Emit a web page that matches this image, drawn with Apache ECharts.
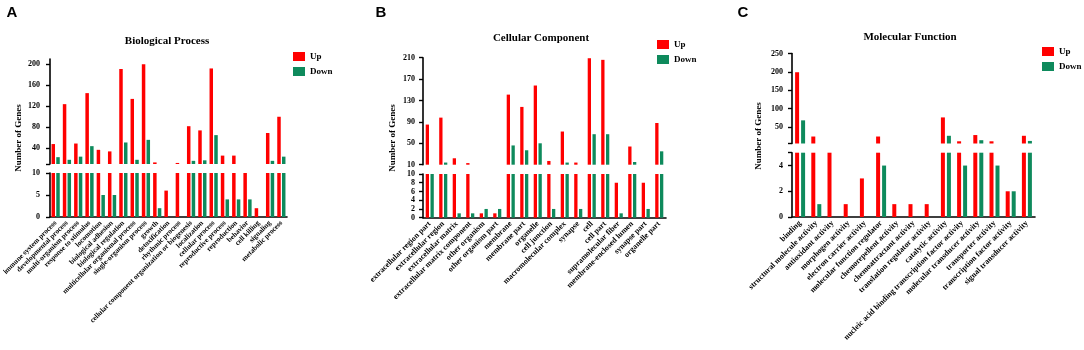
<!DOCTYPE html>
<html lang="en">
<head>
    <meta charset="UTF-8" />
    <title>GO classification</title>
    <script src="https://cdn.jsdelivr.net/npm/echarts@6/dist/echarts.min.js"></script>
    <style>
        body { margin: 0; background: #fff; }
    </style>
</head>
<body>
    <div id="main" style="width: 1084px; height: 350px"></div>
    <script>
        // Biological Process
        var bpCats = ["immune system process", "developmental process", "multi-organism process",
            "response to stimulus", "locomotion", "biological adhesion", "biological regulation",
            "multicellular organismal process", "single-organism process", "growth", "detoxification",
            "rhythmic process", "cellular component organization or biogenesis", "localization",
            "cellular process", "reproductive process", "reproduction", "behavior", "cell killing",
            "signaling", "metabolic process"];
        var bpUp = [48, 124, 49, 145, 37, 34, 191, 134, 200, 13, 6, 12, 82, 74, 192, 26, 26, 10, 2, 69, 100];
        var bpDown = [23, 18, 24, 44, 5, 5, 51, 18, 56, 2, 0, 0, 16, 17, 65, 4, 4, 4, 0, 16, 24];

        // Cellular Component
        var ccCats = ["extracellular region part", "extracellular region", "extracellular matrix",
            "extracellular matrix component", "other organism", "other organism part", "membrane",
            "membrane part", "organelle", "cell junction", "macromolecular complex", "synapse", "cell",
            "cell part", "supramolecular fiber", "membrane-enclosed lumen", "synapse part", "organelle part"];
        var ccUp = [85, 98, 22, 13, 1, 1, 141, 118, 158, 17, 72, 14, 209, 206, 8, 44, 8, 88];
        var ccDown = [10, 14, 1, 1, 2, 2, 46, 37, 50, 2, 14, 2, 67, 67, 1, 15, 2, 35];

        // Molecular Function
        var mfCats = ["binding", "structural molecule activity", "antioxidant activity", "morphogen activity",
            "electron carrier activity", "molecular function regulator", "chemorepellent activity",
            "chemoattractant activity", "translation regulator activity", "catalytic activity",
            "nucleic acid binding transcription factor activity", "molecular transducer activity",
            "transporter activity", "transcription factor activity", "signal transducer activity"];
        var mfUp = [199, 24, 5, 1, 3, 24, 1, 1, 1, 76, 11, 28, 11, 2, 26];
        var mfDown = [68, 1, 0, 0, 0, 4, 0, 0, 0, 26, 4, 14, 4, 2, 12];

        var RED = "#ff0000";
        var GREEN = "#0e8a5c";
        var SERIF = "Liberation Serif";

        // one panel = upper (broken) segment + lower segment
        var panels = [
            {
                cats: bpCats, up: bpUp, down: bpDown, left: 50, width: 237,
                upTop: 59, upBottom: 164, upMin: 10, upMax: 210,
                upTicks: [10, 40, 80, 120, 160, 200], upLabels: [40, 80, 120, 160, 200],
                loTop: 173, loBottom: 217, loMax: 10, loTicks: [0, 5, 10], loLabels: [0, 5, 10],
                barWidth: 3.5, barGap: "35%", labelSize: 7.2, yMargin: 10
            },
            {
                cats: ccCats, up: ccUp, down: ccDown, left: 423, width: 243,
                upTop: 57.7, upBottom: 164.7, upMin: 10, upMax: 210,
                upTicks: [10, 50, 90, 130, 170, 210], upLabels: [10, 50, 90, 130, 170, 210],
                loTop: 174, loBottom: 217.7, loMax: 10, loTicks: [0, 2, 4, 6, 8, 10], loLabels: [0, 2, 4, 6, 8, 10],
                barWidth: 3.3, barGap: "45%", labelSize: 7.9, yMargin: 8
            },
            {
                cats: mfCats, up: mfUp, down: mfDown, left: 792, width: 243,
                upTop: 53.5, upBottom: 143.5, upMin: 5, upMax: 250,
                upTicks: [5, 50, 100, 150, 200, 250], upLabels: [50, 100, 150, 200, 250],
                loTop: 152.7, loBottom: 217, loMax: 5, loTicks: [0, 2, 4, 5], loLabels: [0, 2, 4],
                barWidth: 4, barGap: "50%", labelSize: 8, yMargin: 9
            }
        ];

        var grid = [], xAxis = [], yAxis = [], series = [];
        var axisLine = { show: true, lineStyle: { color: "#000", width: 1.6 } };

        panels.forEach(function (p, i) {
            // upper grid
            grid.push({ left: p.left, width: p.width, top: p.upTop, height: p.upBottom - p.upTop });
            // lower grid
            grid.push({ left: p.left, width: p.width, top: p.loTop, height: p.loBottom - p.loTop });

            xAxis.push({ type: "category", gridIndex: i * 2, data: p.cats, show: false });
            xAxis.push({
                type: "category", gridIndex: i * 2 + 1, data: p.cats,
                axisLine: axisLine,
                axisTick: { alignWithLabel: true, length: 4, lineStyle: { color: "#000", width: 1.4 } },
                axisLabel: {
                    interval: 0, rotate: 45, margin: 5, color: "#000",
                    fontFamily: SERIF, fontWeight: "bold", fontSize: p.labelSize
                }
            });

            var yLabel = { color: "#000", fontFamily: SERIF, fontWeight: "bold", fontSize: 8, margin: p.yMargin };
            var yTick = { show: true, length: 4, lineStyle: { color: "#000", width: 1.4 } };
            yAxis.push({
                type: "value", gridIndex: i * 2, min: p.upMin, max: p.upMax,
                axisLine: axisLine, splitLine: { show: false },
                axisTick: Object.assign({ customValues: p.upTicks }, yTick),
                axisLabel: Object.assign({ customValues: p.upLabels }, yLabel)
            });
            yAxis.push({
                type: "value", gridIndex: i * 2 + 1, min: 0, max: p.loMax,
                axisLine: axisLine, splitLine: { show: false },
                axisTick: Object.assign({ customValues: p.loTicks }, yTick),
                axisLabel: Object.assign({ customValues: p.loLabels }, yLabel)
            });

            var hi = function (v) { return v > p.loMax ? v : "-"; };
            var lo = function (v) { return Math.min(v, p.loMax); };
            [["Up", p.up, RED], ["Down", p.down, GREEN]].forEach(function (s) {
                series.push({
                    name: s[0], type: "bar", xAxisIndex: i * 2, yAxisIndex: i * 2,
                    data: s[1].map(hi), barWidth: p.barWidth, barGap: p.barGap,
                    itemStyle: { color: s[2] }, clip: true
                });
                series.push({
                    name: s[0], type: "bar", xAxisIndex: i * 2 + 1, yAxisIndex: i * 2 + 1,
                    data: s[1].map(lo), barWidth: p.barWidth, barGap: p.barGap,
                    itemStyle: { color: s[2] }, clip: true
                });
            });
        });

        var legendPos = [[293, 52], [657, 40], [1042, 47]];
        var legend = legendPos.map(function (pos) {
            return {
                left: pos[0], top: pos[1], orient: "vertical", icon: "rect", padding: 0,
                itemWidth: 12, itemHeight: 9, itemGap: 6,
                data: ["Up", "Down"],
                textStyle: { fontFamily: SERIF, fontWeight: "bold", fontSize: 9, color: "#000" }
            };
        });

        function txt(x, y, s, size, family, rot) {
            return {
                type: "text", x: x, y: y, rotation: rot || 0,
                style: {
                    text: s, fill: "#000", fontFamily: family, fontWeight: "bold", fontSize: size,
                    align: "center", verticalAlign: "middle"
                }
            };
        }

        var graphic = [
            txt(12, 13, "A", 15, "Liberation Sans"),
            txt(381, 13, "B", 15, "Liberation Sans"),
            txt(743, 13, "C", 15, "Liberation Sans"),
            txt(167, 41, "Biological Process", 11, SERIF),
            txt(541, 38, "Cellular Component", 11, SERIF),
            txt(910, 37, "Molecular Function", 11, SERIF),
            txt(19, 138, "Number of Genes", 9, SERIF, Math.PI / 2),
            txt(393, 138, "Number of Genes", 9, SERIF, Math.PI / 2),
            txt(759, 136, "Number of Genes", 9, SERIF, Math.PI / 2)
        ];

        var chart = echarts.init(document.getElementById("main"));
        chart.setOption({
            animation: false,
            grid: grid,
            xAxis: xAxis,
            yAxis: yAxis,
            legend: legend,
            graphic: graphic,
            series: series
        });
    </script>
</body>
</html>
